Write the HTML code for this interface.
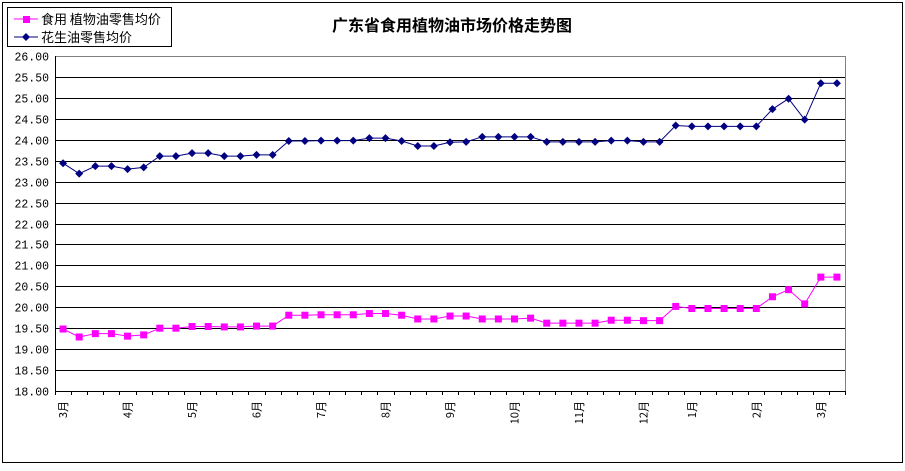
<!DOCTYPE html>
<html><head><meta charset="utf-8"><style>
body{margin:0;background:#fff;}
svg{display:block;font-family:"Liberation Sans","Noto Sans CJK SC",sans-serif;}
</style></head><body>
<svg id="c" width="905" height="471">
<rect x="2.5" y="2.5" width="900" height="460" fill="#fff" stroke="#000"/>
<text x="452" y="31" text-anchor="middle" font-size="16" font-weight="bold" font-family="'Noto Sans CJK SC',sans-serif">广东省食用植物油市场价格走势图</text>
<g>
<rect x="7.5" y="7.5" width="164" height="39" fill="#fff" stroke="#000"/>
<g>
<line x1="14" y1="19" x2="38" y2="19" stroke="#ff00ff"/><rect x="23" y="16" width="7" height="7" fill="#ff00ff"/>
<text x="41" y="24" font-size="13" font-family="'Noto Sans CJK SC',sans-serif">食用 植物油零售均价</text></g>
<g>
<line x1="14" y1="37" x2="38" y2="37" stroke="#000080"/><path d="M26 33L30 37L26 41L22 37Z" fill="#000080"/>
<text x="41" y="42" font-size="13" font-family="'Noto Sans CJK SC',sans-serif">花生油零售均价</text></g>
</g>
<g id="grid"></g><g id="axes"></g><g id="series"></g>
</svg>
<script>
const categories=["3月","","","","4月","","","","5月","","","","6月","","","","7月","","","","8月","","","","9月","","","","10月","","","","11月","","","","12月","","","1月","","","","2月","","","","3月",""];
const edibleOil=[19.48,19.29,19.37,19.37,19.31,19.34,19.50,19.50,19.54,19.54,19.53,19.53,19.55,19.55,19.81,19.81,19.82,19.82,19.82,19.85,19.85,19.81,19.72,19.72,19.79,19.79,19.72,19.72,19.72,19.74,19.62,19.62,19.62,19.62,19.69,19.69,19.68,19.68,20.02,19.97,19.97,19.97,19.97,19.97,20.25,20.42,20.08,20.72,20.72];
const peanutOil=[23.44,23.19,23.37,23.37,23.30,23.34,23.61,23.61,23.68,23.68,23.61,23.61,23.64,23.64,23.97,23.97,23.98,23.98,23.98,24.04,24.04,23.97,23.85,23.85,23.94,23.95,24.07,24.07,24.07,24.07,23.95,23.95,23.95,23.95,23.98,23.98,23.95,23.95,24.34,24.32,24.32,24.32,24.32,24.32,24.73,24.98,24.48,25.35,25.35];
const yTicks=["18.00","18.50","19.00","19.50","20.00","20.50","21.00","21.50","22.00","22.50","23.00","23.50","24.00","24.50","25.00","25.50","26.00"];
const NS="http://www.w3.org/2000/svg";
const L=55,R=845,T=56,B=391,yMin=18,yMax=26;
const n=categories.length,cw=(R-L)/n;
const xs=i=>L+cw*(i+0.5);
const ys=v=>B-(v-yMin)/(yMax-yMin)*(B-T);
function mk(p,tag,a){const e=document.createElementNS(NS,tag);for(const k in a)e.setAttribute(k,a[k]);p.appendChild(e);return e;}
const grid=document.getElementById('grid'),axes=document.getElementById('axes'),ser=document.getElementById('series');
yTicks.forEach(t=>{const v=parseFloat(t),y=Math.round(ys(v))+0.5;
 if(v>yMin&&v<yMax){const g=mk(grid,'line',{x1:L,x2:R,y1:y,y2:y,stroke:'#000'});
 
 }
 const tx=mk(axes,'text',{x:49,y:y+4,'text-anchor':'end','font-size':'11.5','font-family':"'Liberation Mono',monospace"});
 tx.textContent=t;
 
 
});
mk(grid,'line',{x1:L,x2:R,y1:T+0.5,y2:T+0.5,stroke:'#808080'});
mk(grid,'line',{x1:R+0.5,x2:R+0.5,y1:T,y2:B,stroke:'#808080'});
const ya=mk(axes,'line',{x1:L+0.5,x2:L+0.5,y1:T,y2:B+0.5,stroke:'#000'});


const xa=mk(axes,'line',{x1:L,x2:R+1,y1:B+0.5,y2:B+0.5,stroke:'#000'});


for(let i=0;i<=n;i++){const x=Math.round(L+cw*i)+0.5;mk(axes,'line',{x1:x,x2:x,y1:B,y2:B+4,stroke:'#000'});}
categories.forEach((c,i)=>{if(!c)return;const x=xs(i);
 const tx=mk(axes,'text',{x:0,y:0,transform:`translate(${x+4},${401}) rotate(-90)`,'text-anchor':'end','font-size':'11','font-family':"'Noto Sans CJK SC',sans-serif"});
 tx.textContent=c;
 
 
});
function line(data,color,name){
 const pl=mk(ser,'polyline',{points:data.map((v,i)=>xs(i)+','+ys(v)).join(' '),fill:'none',stroke:color,'stroke-width':1});
 
 
}
line(edibleOil,'#ff00ff','edible-oil');
line(peanutOil,'#000080','peanut-oil');
edibleOil.forEach((v,i)=>{const r=mk(ser,'rect',{x:xs(i)-3.5,y:ys(v)-3.5,width:7,height:7,fill:'#ff00ff'});
 
 });
peanutOil.forEach((v,i)=>{const x=xs(i),y=ys(v);const p=mk(ser,'path',{d:`M${x} ${y-4}L${x+4} ${y}L${x} ${y+4}L${x-4} ${y}Z`,fill:'#000080'});
 
 });
</script>
</body></html>
